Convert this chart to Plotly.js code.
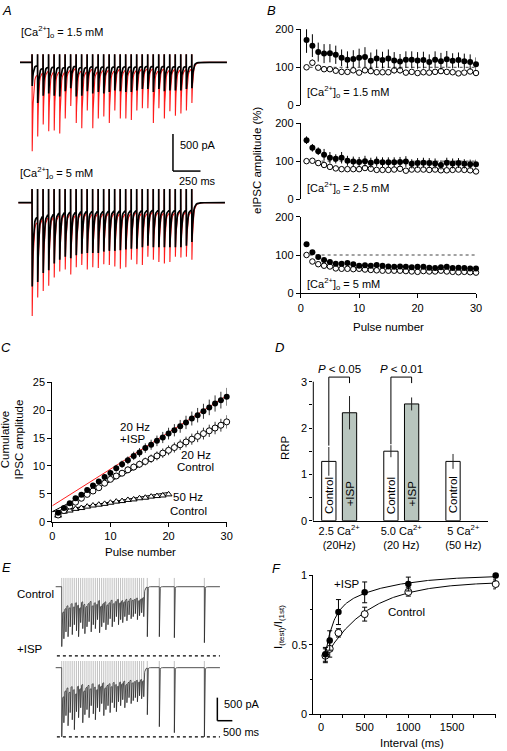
<!DOCTYPE html>
<html><head><meta charset="utf-8">
<script src="https://cdn.plot.ly/plotly-3.0.1.min.js"></script>
<style>html,body{margin:0;padding:0;background:#fff}#chart{width:507px;height:751px}</style>
</head><body><div id="chart"></div><script>
// ---------------- DATA ----------------
// Panel A: peak eIPSC amplitudes (pA) per pulse, 30 pulses at 20 Hz
const A_interval = 50; // ms
const A15_ctrl = [320,550,450,420,450,460,390,350,460,450,390,420,400,420,400,380,390,400,400,380,360,360,400,360,390,380,380,380,360,350];
const A15_isp  = [1200,1000,840,930,920,960,760,590,820,890,650,890,760,730,820,650,760,760,780,650,620,620,820,620,760,660,720,690,650,550];
const A5_ctrl  = [1130,1070,950,910,820,770,730,750,710,690,680,680,680,660,650,650,640,630,620,620,600,580,600,600,600,600,600,600,580,530];
const A5_isp   = [1530,1280,1190,1120,1010,930,900,970,870,840,900,870,880,830,840,860,890,870,770,830,840,730,770,800,820,800,730,740,730,770];

// Panel B: normalised eIPSC amplitude (%)
const B_pulse = [1,2,3,4,5,6,7,8,9,10,11,12,13,14,15,16,17,18,19,20,21,22,23,24,25,26,27,28,29,30];
const B15_isp  = [172,157,140,136,137,133,125,120,122,125,127,117,123,119,123,118,115,120,120,118,119,114,120,116,121,117,119,116,114,108];
const B15_ispE = [34,30,25,25,24,24,22,22,23,24,26,22,24,22,24,22,20,22,22,22,22,20,22,22,22,20,20,20,20,18];
const B15_ctl  = [100,112,99,95,95,91,88,88,92,86,92,90,87,87,87,92,92,86,88,85,87,86,88,90,88,87,84,86,89,85];
const B15_ctlE = [2,8,5,6,6,7,8,7,7,6,7,6,7,6,7,8,8,7,7,6,7,7,7,7,7,6,6,6,7,7];
const B25_isp  = [155,135,126,117,109,106,109,101,99,98,100,96,99,97,97,97,98,99,93,95,96,95,94,90,96,94,95,93,92,92];
const B25_ispE = [10,10,10,15,15,12,15,13,13,13,14,13,13,13,13,13,13,14,12,13,13,13,13,12,13,13,13,12,12,12];
const B25_ctl  = [100,101,95,90,85,81,79,79,79,79,82,80,77,77,77,78,80,75,78,78,78,77,78,76,76,77,78,77,76,73];
const B25_ctlE = [2,4,4,4,4,4,4,4,4,4,4,4,4,4,4,4,4,4,4,4,4,4,4,4,4,4,4,4,4,4];
const B5_isp   = [128,107,95,87,82,77,77,79,76,72,73,72,74,72,70,69,70,69,68,69,69,67,66,68,69,66,67,66,65,65];
const B5_ispE  = [4,4,4,4,4,4,4,4,4,4,4,4,4,4,4,4,4,4,4,4,4,4,4,4,4,4,4,4,4,4];
const B5_ctl   = [100,83,76,72,70,65,64,64,63,64,62,61,60,59,59,59,59,58,57,56,58,57,57,59,57,56,55,56,55,54];
const B5_ctlE  = [2,3,3,3,3,3,3,3,3,3,3,3,3,3,3,3,3,3,3,3,3,3,3,3,3,3,3,3,3,3];

// Panel C: cumulative IPSC amplitude
const C_pulse30 = B_pulse;
const C_pulse20 = [1,2,3,4,5,6,7,8,9,10,11,12,13,14,15,16,17,18,19,20];
const C_isp20  = [1.6,2.45,3.3,4.2,4.85,5.7,6.5,7.2,8.0,8.75,9.6,10.3,11.0,11.8,12.4,13.2,13.8,14.5,15.1,15.8,16.4,17.1,17.8,18.5,19.1,19.8,20.5,21.2,21.8,22.4];
const C_isp20E = [0.1,0.15,0.2,0.25,0.3,0.35,0.4,0.45,0.5,0.55,0.6,0.65,0.7,0.75,0.8,0.85,0.9,0.95,1.0,1.05,1.1,1.15,1.2,1.25,1.3,1.35,1.4,1.45,1.5,1.6];
const C_ctl20  = [1.2,2.0,2.8,3.5,4.2,4.9,5.5,6.1,6.9,7.6,8.2,8.7,9.3,9.8,10.3,10.8,11.3,11.8,12.3,12.8,13.3,13.8,14.3,14.8,15.3,15.8,16.3,16.8,17.3,17.9];
const C_ctl20E = [0.1,0.12,0.15,0.2,0.25,0.3,0.33,0.36,0.4,0.45,0.5,0.55,0.6,0.63,0.66,0.7,0.75,0.8,0.85,0.88,0.9,0.93,0.96,1.0,1.03,1.06,1.1,1.12,1.15,1.2];
const C_ctl50  = [1.1,1.8,2.0,2.3,2.45,2.7,2.9,3.05,3.2,3.4,3.6,3.7,3.9,4.0,4.2,4.3,4.5,4.6,4.7,4.9];
const C_fitISP = [2.85, 0.658];   // intercept, slope
const C_fitCtl = [1.8, 0.543];
const C_fit50  = [1.8, 0.173];

// Panel D: RRP
const D_labels = ['Control','+ISP','Control','+ISP','Control'];
const D_pos    = [0,1,3,4,6];
const D_rrp    = [1.28,2.33,1.5,2.52,1.28];
const D_err    = [0.31,0.36,0.13,0.14,0.16];
const D_groups = ['2.5 Ca<sup>2+</sup><br>(20Hz)','5.0 Ca<sup>2+</sup><br>(20 Hz)','5 Ca<sup>2+</sup><br>(50 Hz)'];
const D_pvals  = ['<i>P</i> < 0.05','<i>P</i> < 0.01'];

// Panel E: long train + test pulses (pA)
const E_interval = 70;
const E_ctl_train = [1300,1130,980,1085,870,1040,825,955,1085,780,910,1020,870,760,980,825,910,715,1000,870,780,935,825,695,870,760,650,825,715,780,650,740,610,695,650,585,715,630,565,650];
const E_isp_train = [1500,1195,1040,1260,975,1130,1345,955,1085,870,1195,1020,910,1085,825,1000,1130,870,955,780,1040,910,825,975,760,870,955,740,825,695,870,760,650,780,715,650,740,610,675,630];
const E_test_interval = [100,500,1000,2000];
const E_ctl_test = [1085,1085,1107,1215];
const E_isp_test = [1020,1280,1410,1500];

// Panel F: recovery
const F_interval = [50,100,200,500,1000,2000];
const F_isp  = [0.43,0.53,0.735,0.877,0.937,0.998];
const F_ispE = [0.05,0.07,0.09,0.075,0.05,0.04];
const F_ctl  = [0.42,0.47,0.585,0.72,0.88,0.937];
const F_ctlE = [0.05,0.06,0.03,0.05,0.03,0.035];
const F_fitISP = {a1:0.526, t1:86.5, a2:0.30, t2:587, A:1.0};
const F_fitCtl = {a1:0.60, t1:500, a2:0, t2:1, A:0.955};

// ---------------- HELPERS ----------------
const W = 507, H = 751;
const PX = p => p / W;
const PY = p => 1 - p / H;
const FF = 'Liberation Sans, Arial, Helvetica, sans-serif';
const BLK = 'black';

function buildTrace(times, depths, p) {
  const x = [p.tStart], y = [0];
  let level = 0;
  for (let i = 0; i < times.length; i++) {
    const t = times[i], d = depths[i];
    const next = i < times.length - 1 ? times[i + 1] : p.tEnd;
    const gap = next - t;
    const isolated = gap > 90;
    x.push(t); y.push(level);
    if (p.art) { x.push(t + 0.6); y.push(p.art); }
    x.push(t + 2); y.push(-d);
    const r = (isolated && p.isoNoRes && i >= p.nTrain) ? 0 : p.resFrac * d;
    for (const dt of [1.5, 3.5, 6, 9, 13, 18, 24, 31, 39, 48, 60, 80, 110, 160, 250]) {
      const tt = t + 2 + dt;
      if (tt >= next - 0.5) break;
      const g = isolated ? Math.exp(-dt / p.recov) : 1;
      const v = -(r * g + (d - r) * Math.exp(-dt / p.tau));
      x.push(tt); y.push(v);
      level = v;
    }
  }
  x.push(p.tEnd); y.push(0);
  return {x, y};
}
function artifacts(times, levels, top) {
  const x = [], y = [];
  times.forEach((t, i) => { x.push(t, t, null); y.push(levels[i], top, null); });
  return {x, y};
}

const traces = [];
const annotations = [];
const shapes = [];

function ann(text, x, y, o) {
  annotations.push(Object.assign({text, x: PX(x), y: PY(y), xref: 'paper', yref: 'paper', showarrow: false,
    xanchor: 'center', yanchor: 'middle', font: {family: FF, size: 11, color: BLK}}, o || {}));
}

// ---------------- PANEL A ----------------
const A_times = A15_ctrl.map((_, i) => i * A_interval);
const aP1 = {tStart: -109, tEnd: 1770, resFrac: 0.14, art: 110, tau: 9, recov: 22, nTrain: 30};
const aP2 = {tStart: -124, tEnd: 1752, resFrac: 0.17, art: 185, tau: 9, recov: 22, nTrain: 30};
[[A15_isp, 'x', 'y', aP1, '#ff1a1a', 1.1], [A15_ctrl, 'x', 'y', aP1, BLK, 1.7],
 [A5_isp, 'x2', 'y2', aP2, '#ff1a1a', 1.1], [A5_ctrl, 'x2', 'y2', aP2, BLK, 1.7]].forEach(([d, xa, ya, p, c, w]) => {
  const tr = buildTrace(A_times, d, p);
  traces.push({type: 'scatter', mode: 'lines', x: tr.x, y: tr.y, xaxis: xa, yaxis: ya,
    line: {color: c, width: w}, hoverinfo: 'skip'});
});
shapes.push({type: 'line', xref: 'x', yref: 'y', x0: 1280, x1: 1280, y0: -968, y1: -1468, line: {color: BLK, width: 1.5}});
shapes.push({type: 'line', xref: 'x', yref: 'y', x0: 1280, x1: 1530, y0: -1468, y1: -1468, line: {color: BLK, width: 1.5}});
ann('500 pA', 178, 145, {xanchor: 'left'});
ann('250 ms', 177, 181, {xanchor: 'left'});
ann('[Ca<sup>2+</sup>]<sub>o</sub> = 1.5 mM', 19, 32, {xanchor: 'left'});
ann('[Ca<sup>2+</sup>]<sub>o</sub> = 5 mM', 18, 173, {xanchor: 'left'});

// ---------------- PANEL B ----------------
const bSets = [
  ['x3', 'y3', B15_ctl, B15_ctlE, B15_isp, B15_ispE],
  ['x4', 'y4', B25_ctl, B25_ctlE, B25_isp, B25_ispE],
  ['x5', 'y5', B5_ctl, B5_ctlE, B5_isp, B5_ispE]];
bSets.forEach(([xa, ya, c, ce, s, se]) => {
  shapes.push({type: 'line', xref: xa, yref: ya, x0: 0.5, x1: 30, y0: 100, y1: 100, layer: 'below',
    line: {color: '#444', width: 1, dash: 'dot'}});
  traces.push({type: 'scatter', mode: 'markers', x: B_pulse, y: c, xaxis: xa, yaxis: ya, cliponaxis: false,
    marker: {symbol: 'circle', size: 5.5, color: 'white', line: {color: BLK, width: 1}},
    error_y: {type: 'data', array: ce, color: BLK, thickness: 1, width: 0}, hoverinfo: 'skip'});
  traces.push({type: 'scatter', mode: 'markers', x: B_pulse, y: s, xaxis: xa, yaxis: ya, cliponaxis: false,
    marker: {symbol: 'circle', size: 6, color: BLK},
    error_y: {type: 'data', array: se, color: BLK, thickness: 1, width: 0}, hoverinfo: 'skip'});
});
ann('[Ca<sup>2+</sup>]<sub>o</sub> = 1.5 mM', 305, 92, {xanchor: 'left'});
ann('[Ca<sup>2+</sup>]<sub>o</sub> = 2.5 mM', 305, 188, {xanchor: 'left'});
ann('[Ca<sup>2+</sup>]<sub>o</sub> = 5 mM', 305, 284, {xanchor: 'left'});
ann('eIPSC amplitude (%)', 257, 160, {textangle: -90, font: {family: FF, size: 11.5, color: BLK}});
ann('Pulse number', 388, 327, {font: {family: FF, size: 11.5, color: BLK}});

// ---------------- PANEL C ----------------
function fitLine(fp, xmax, color) {
  traces.push({type: 'scatter', mode: 'lines', x: [0, xmax], y: [fp[0], fp[0] + fp[1] * xmax],
    xaxis: 'x6', yaxis: 'y6', line: {color: color, width: 1}, hoverinfo: 'skip'});
}
fitLine(C_fit50, 20, BLK);
fitLine(C_fitCtl, 30, BLK);
traces.push({type: 'scatter', mode: 'markers', x: C_pulse20, y: C_ctl50, xaxis: 'x6', yaxis: 'y6', cliponaxis: false,
  marker: {symbol: 'triangle-up', size: 6, color: 'white', line: {color: BLK, width: 1}}, hoverinfo: 'skip'});
traces.push({type: 'scatter', mode: 'markers', x: C_pulse30, y: C_ctl20, xaxis: 'x6', yaxis: 'y6', cliponaxis: false,
  marker: {symbol: 'circle', size: 6, color: 'white', line: {color: BLK, width: 1}},
  error_y: {type: 'data', array: C_ctl20E, color: '#333', thickness: 1, width: 0}, hoverinfo: 'skip'});
fitLine(C_fitISP, 30, '#ff2020');
traces.push({type: 'scatter', mode: 'markers', x: C_pulse30, y: C_isp20, xaxis: 'x6', yaxis: 'y6', cliponaxis: false,
  marker: {symbol: 'circle', size: 6, color: BLK},
  error_y: {type: 'data', array: C_isp20E, color: '#333', thickness: 1, width: 0}, hoverinfo: 'skip'});
ann('20 Hz', 135, 427, {font: {family: FF, size: 11.5, color: BLK}});
ann('+ISP', 133, 439, {font: {family: FF, size: 11.5, color: BLK}});
ann('20 Hz', 196, 455, {font: {family: FF, size: 11.5, color: BLK}});
ann('Control', 195, 467, {font: {family: FF, size: 11.5, color: BLK}});
ann('50 Hz', 188, 497, {font: {family: FF, size: 11.5, color: BLK}});
ann('Control', 188, 511, {font: {family: FF, size: 11.5, color: BLK}});
ann('Cumulative<br>IPSC amplitude', 12.5, 440, {textangle: -90, font: {family: FF, size: 11.5, color: BLK}});
ann('Pulse number', 140, 552, {font: {family: FF, size: 11.5, color: BLK}});

// ---------------- PANEL D ----------------
traces.push({type: 'bar', x: D_pos, y: D_rrp, width: 0.69, xaxis: 'x7', yaxis: 'y7',
  marker: {color: D_labels.map(l => l === '+ISP' ? '#b8c5be' : 'white'), line: {color: BLK, width: 1}},
  error_y: {type: 'data', array: D_err, color: '#222', thickness: 1, width: 0}, hoverinfo: 'skip'});
D_pos.forEach((p, i) => {
  annotations.push({text: D_labels[i], x: p, y: D_labels[i] === '+ISP' ? 0.58 : 0.55, xref: 'x7', yref: 'y7',
    showarrow: false, textangle: -90, font: {family: FF, size: 11.5, color: BLK}});
});
[[0, 1, 1.62, 2.97, 0, 339.5], [3, 4, 1.65, 2.97, 1, 401.5]].forEach(([a, b, ya, yb, k, px]) => {
  shapes.push({type: 'path', xref: 'x7', yref: 'y7', path: `M ${a},${ya} L ${a},3.1 L ${b},3.1 L ${b},${yb}`,
    line: {color: BLK, width: 1}});
  ann(D_pvals[k], px, 369, {font: {family: FF, size: 11.5, color: BLK}});
});
shapes.push({type: 'line', xref: 'x7 domain', yref: 'y7 domain', x0: 0, x1: 0, y0: 0, y1: 3 / 3.15,
  line: {color: BLK, width: 1}});
ann('RRP', 285, 448, {textangle: -90, font: {family: FF, size: 11.5, color: BLK}});

// ---------------- PANEL E ----------------
const E_times = E_ctl_train.map((_, i) => i * E_interval);
const E_end = E_times[E_times.length - 1] + 20;
const E_ttimes = E_test_interval.map(v => E_end + v);
[[E_ctl_train, E_ctl_test, 'x8', 'y8', 190], [E_isp_train, E_isp_test, 'x9', 'y9', 145]].forEach(([tr, te, xa, ya, art]) => {
  const times = E_times.concat(E_ttimes);
  const depths = tr.concat(te);
  const res = depths.map((d, i) => i < tr.length && i > 0 ? -0.42 * depths[i - 1] : 0);
  const ar = artifacts(times, res, art);
  traces.push({type: 'scatter', mode: 'lines', x: ar.x, y: ar.y, xaxis: xa, yaxis: ya,
    line: {color: '#b0b0b0', width: 0.8}, hoverinfo: 'skip'});
  const w = buildTrace(times, depths, {tStart: -200, tEnd: 5270, resFrac: 0.42, art: 0, tau: 9, recov: 30,
    isoNoRes: true, nTrain: tr.length});
  traces.push({type: 'scatter', mode: 'lines', x: w.x, y: w.y, xaxis: xa, yaxis: ya,
    line: {color: '#262626', width: 0.8}, hoverinfo: 'skip'});
  shapes.push({type: 'line', xref: xa, yref: ya, x0: -160, x1: 5270, y0: -1500, y1: -1500,
    line: {color: BLK, width: 1.3, dash: 'dot'}});
});
shapes.push({type: 'line', xref: 'x9', yref: 'y9', x0: 5183, x1: 5183, y0: -650, y1: -1150, line: {color: BLK, width: 1.5}});
shapes.push({type: 'line', xref: 'x9', yref: 'y9', x0: 5183, x1: 5683, y0: -1150, y1: -1150, line: {color: BLK, width: 1.5}});
ann('500 pA', 222, 704, {xanchor: 'left'});
ann('500 ms', 221, 732, {xanchor: 'left'});
ann('Control', 15, 594, {xanchor: 'left', font: {family: FF, size: 11.5, color: BLK}});
ann('+ISP', 15, 649, {xanchor: 'left', font: {family: FF, size: 11.5, color: BLK}});

// ---------------- PANEL F ----------------
function recov(fp) {
  const x = [], y = [];
  for (let t = 50; t <= 2000; t += 10) { x.push(t); y.push(fp.A - fp.a1 * Math.exp(-t / fp.t1) - fp.a2 * Math.exp(-t / fp.t2)); }
  return {x, y};
}
[F_fitCtl, F_fitISP].forEach(fp => {
  const r = recov(fp);
  traces.push({type: 'scatter', mode: 'lines', x: r.x, y: r.y, xaxis: 'x10', yaxis: 'y10',
    line: {color: BLK, width: 1}, hoverinfo: 'skip'});
});
traces.push({type: 'scatter', mode: 'markers', x: F_interval, y: F_ctl, xaxis: 'x10', yaxis: 'y10', cliponaxis: false,
  marker: {symbol: 'circle', size: 7, color: 'white', line: {color: BLK, width: 1}},
  error_y: {type: 'data', array: F_ctlE, color: BLK, thickness: 1, width: 2.5}, hoverinfo: 'skip'});
traces.push({type: 'scatter', mode: 'markers', x: F_interval, y: F_isp, xaxis: 'x10', yaxis: 'y10', cliponaxis: false,
  marker: {symbol: 'circle', size: 6.5, color: BLK},
  error_y: {type: 'data', array: F_ispE, color: BLK, thickness: 1, width: 2.5}, hoverinfo: 'skip'});
ann('+ISP', 347, 584, {font: {family: FF, size: 11.5, color: BLK}});
ann('Control', 406, 612, {font: {family: FF, size: 11.5, color: BLK}});
ann('I<sub>(test)</sub>/I<sub>(1st)</sub>', 279, 627, {textangle: -90, font: {family: FF, size: 11.5, color: BLK}});
ann('Interval (ms)', 412, 743, {font: {family: FF, size: 11.5, color: BLK}});

// Panel letters
[['A', 7, 10], ['B', 271, 10], ['C', 6, 347], ['D', 279, 347], ['E', 6, 567], ['F', 276, 568]].forEach(([t, x, y]) => {
  ann('<i>' + t + '</i>', x, y, {font: {family: FF, size: 13, color: BLK}});
});

// ---------------- AXES ----------------
const hidden = {showgrid: false, zeroline: false, showline: false, showticklabels: false, ticks: '', fixedrange: true};
const vis = {showgrid: false, zeroline: false, showline: true, linecolor: BLK, linewidth: 1, ticks: 'outside',
  ticklen: 4, tickwidth: 1, tickcolor: BLK, tickfont: {family: FF, size: 11, color: BLK}, fixedrange: true};
function xd(a, b) { return [PX(a), PX(b)]; }
function yd(top, bottom) { return [PY(bottom), PY(top)]; }

const layout = {
  width: W, height: H, margin: {l: 0, r: 0, t: 0, b: 0}, autosize: false,
  paper_bgcolor: 'white', plot_bgcolor: 'rgba(0,0,0,0)', showlegend: false,
  font: {family: FF, color: BLK},
  // A
  xaxis: Object.assign({}, hidden, {domain: xd(18, 232), range: [-127, 1816], anchor: 'y'}),
  yaxis: Object.assign({}, hidden, {domain: yd(40, 183), range: [-1629, 301], anchor: 'x'}),
  xaxis2: Object.assign({}, hidden, {domain: xd(18, 232), range: [-127, 1816], anchor: 'y2'}),
  yaxis2: Object.assign({}, hidden, {domain: yd(183, 330), range: [-1718, 266], anchor: 'x2'}),
  // B
  xaxis3: Object.assign({}, hidden, {domain: xd(300.7, 476), range: [0, 30], anchor: 'y3'}),
  yaxis3: Object.assign({}, vis, {domain: yd(29.3, 105.3), range: [0, 200], tickvals: [0, 100, 200], anchor: 'x3'}),
  xaxis4: Object.assign({}, hidden, {domain: xd(300.7, 476), range: [0, 30], anchor: 'y4'}),
  yaxis4: Object.assign({}, vis, {domain: yd(123, 199.3), range: [0, 200], tickvals: [0, 100, 200], anchor: 'x4'}),
  xaxis5: Object.assign({}, vis, {domain: xd(300.7, 476), range: [0, 30], tickvals: [0, 10, 20, 30], anchor: 'y5'}),
  yaxis5: Object.assign({}, vis, {domain: yd(216.7, 293.3), range: [0, 200], tickvals: [0, 100, 200], anchor: 'x5'}),
  // C
  xaxis6: Object.assign({}, vis, {domain: xd(52.3, 226.7), range: [0, 30], tickvals: [0, 10, 20, 30], anchor: 'y6'}),
  yaxis6: Object.assign({}, vis, {domain: yd(382.3, 521.7), range: [0, 25], tickvals: [0, 5, 10, 15, 20, 25], anchor: 'x6'}),
  // D
  xaxis7: Object.assign({}, vis, {domain: xd(313.3, 488), range: [-0.75, 7.69], ticks: '', tickvals: [0.5, 3.5, 6.5],
    ticktext: D_groups, anchor: 'y7'}),
  yaxis7: Object.assign({}, vis, {showline: false, domain: yd(520.7 - 3.15 * 46.33, 520.7), range: [0, 3.15],
    tickmode: 'array', tickvals: [0, 1, 2, 3], ticklen: 3,
    minor: {tickvals: [0.5, 1.5, 2.5], ticks: 'outside', ticklen: 3, tickcolor: BLK, tickwidth: 1}, anchor: 'x7'}),
  // E
  xaxis8: Object.assign({}, hidden, {domain: xd(55, 235), range: [-223, 5771], anchor: 'y8'}),
  yaxis8: Object.assign({}, hidden, {domain: yd(568, 658), range: [-1547, 406], anchor: 'x8'}),
  xaxis9: Object.assign({}, hidden, {domain: xd(55, 235), range: [-223, 5771], anchor: 'y9'}),
  yaxis9: Object.assign({}, hidden, {domain: yd(658, 745), range: [-1677, 210], anchor: 'x9'}),
  // F
  xaxis10: Object.assign({}, vis, {domain: xd(313.3, 495.7), range: [-88, 2000], tickvals: [0, 500, 1000, 1500, 2000],
    ticklen: 3, minor: {tickvals: [250, 750, 1250, 1750], ticks: 'outside', ticklen: 2.5, tickcolor: BLK, tickwidth: 1}, anchor: 'y10'}),
  yaxis10: Object.assign({}, vis, {domain: yd(575.3, 714), range: [0, 1], tickvals: [0, 0.5, 1], ticktext: ['0', '0.5', '1'],
    ticklen: 3, minor: {tickvals: [0.25, 0.75], ticks: 'outside', ticklen: 2.5, tickcolor: BLK, tickwidth: 1}, anchor: 'x10'}),
  shapes: shapes,
  annotations: annotations
};

Plotly.newPlot('chart', traces, layout, {staticPlot: true, displayModeBar: false});
</script></body></html>
